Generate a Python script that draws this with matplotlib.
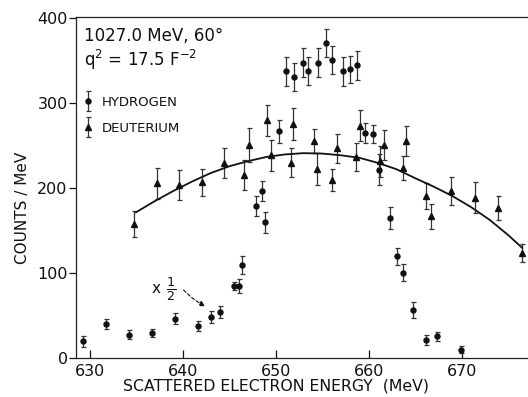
import numpy as np
import matplotlib
matplotlib.use('Agg')
import matplotlib.pyplot as plt
from matplotlib.legend_handler import HandlerErrorbar

# hydrogen (x 1/2)
h_e = [629.35, 631.8, 634.2, 636.7, 639.2, 641.7, 643.1, 644.05, 645.5, 646.1,
       646.4, 647.9, 648.5, 648.85, 650.4, 651.1, 652.0, 652.9, 653.5, 654.6,
       655.45, 656.05, 657.2, 658.0, 658.7, 659.6, 660.5, 661.15, 662.3, 663.0,
       663.7, 664.8, 666.2, 667.3, 669.9]
h_c = [20, 41, 28, 30, 47, 38, 49, 55, 85, 85,
       110, 179, 197, 160, 267, 338, 331, 348, 338, 348,
       371, 351, 338, 340, 345, 265, 264, 222, 165, 120,
       101, 57, 22, 26, 10.5]
h_err = [6, 6, 5, 5, 6, 6, 7, 7, 5, 8,
         11, 12, 12, 12, 13, 17, 16, 17, 16, 17,
         17, 17, 17, 16, 17, 12, 11, 18, 13, 10,
         10, 9, 6, 5, 4]

# deuterium
d_e = [634.8, 637.2, 639.6, 642.1, 644.5, 646.6, 647.1, 649.1, 649.5, 651.6,
       651.9, 654.1, 654.4, 656.05, 656.6, 658.65, 659.05, 661.2, 661.65, 663.7,
       664.05, 666.2, 666.7, 668.8, 671.4, 673.9, 676.5]
d_c = [158, 206, 204, 207, 230, 216, 251, 280, 239, 230,
       276, 256, 223, 210, 247, 237, 274, 232, 251, 224,
       256, 191, 167, 197, 189, 177, 124]
d_err = [15, 18, 18, 16, 18, 18, 20, 18, 18, 17,
         19, 14, 19, 13, 17, 16, 18, 18, 18, 14,
         18, 15, 15, 16, 18, 14, 11]

# smooth curve through deuterium
fit_e = [635, 637, 639, 641, 643, 645, 647, 649, 651, 653, 655,
         657, 659, 661, 663, 665, 667, 669, 671, 673, 675, 676.5]
fit_c = [172, 185, 197, 208, 218, 226, 232, 237, 240, 241.5, 241,
         239, 236, 230, 222.5, 212, 202, 191, 178, 163, 145, 130]

xticks = [630, 640, 650, 660, 670]
yticks = [0, 100, 200, 300, 400]

fig = plt.figure(figsize=(5.28, 3.97), dpi=100)
ax = fig.add_axes([0.144, 0.097, 0.854, 0.861])

ink = '#111111'
eb_h = ax.errorbar(h_e, h_c, yerr=h_err, fmt='o', ms=3.6, color=ink,
                   ecolor='#333333', elinewidth=0.9, capsize=1.8, capthick=0.9)
eb_d = ax.errorbar(d_e, d_c, yerr=d_err, fmt='^', ms=3.8, color=ink,
                   ecolor='#333333', elinewidth=0.9, capsize=1.8, capthick=0.9)
ax.plot(fit_e, fit_c, color=ink, lw=1.3)

ax.set_xlim(628.55, 677)
ax.set_ylim(0, 402)
ax.set_xticks(xticks)
ax.set_yticks(yticks)
ax.tick_params(axis='x', direction='in', length=6, width=0.9, pad=4,
               labelsize=11.5, colors=ink)
ax.tick_params(axis='y', direction='out', length=5, width=0.9, pad=1,
               labelsize=11.5, colors=ink)
for s in ['left', 'bottom', 'top']:
    ax.spines[s].set_linewidth(0.9)
    ax.spines[s].set_color('#222222')
ax.spines['right'].set_visible(False)

ax.set_xlabel('SCATTERED ELECTRON ENERGY  (MeV)', fontsize=11.3, color=ink)
ax.xaxis.set_label_coords(0.443, -0.058)
ax.set_ylabel('COUNTS / MeV', fontsize=11, color=ink)
ax.yaxis.set_label_coords(-0.103, 0.44)

ax.text(0.018, 0.93, '1027.0 MeV, 60°', transform=ax.transAxes,
        fontsize=12, color=ink, va='baseline')
ax.text(0.018, 0.857, 'q$^2$ = 17.5 F$^{-2}$', transform=ax.transAxes,
        fontsize=12, color=ink, va='baseline')

leg = ax.legend([eb_h, eb_d], ['HYDROGEN', 'DEUTERIUM'],
                loc='center left', bbox_to_anchor=(-0.012, 0.712),
                frameon=False, fontsize=9.5, handlelength=0.9,
                handletextpad=0.55, labelspacing=1.0,
                handler_map={type(eb_h): HandlerErrorbar(yerr_size=0.75)})
for t in leg.get_texts():
    t.set_color(ink)

# "x 1/2" note with dashed arrow
ax.text(637.2, 82, 'x', fontsize=11, color=ink, ha='center', va='center')
ax.text(638.75, 82, r'$\frac{1}{2}$', fontsize=13, color=ink,
        ha='center', va='center')
ax.annotate('', xy=(642.7, 60), xytext=(639.9, 83),
            arrowprops=dict(arrowstyle='-|>', linestyle=(0, (3, 2)),
                            color=ink, lw=0.8, mutation_scale=8,
                            connectionstyle='arc3,rad=0.1'))

fig.savefig('out.png', dpi=100)
